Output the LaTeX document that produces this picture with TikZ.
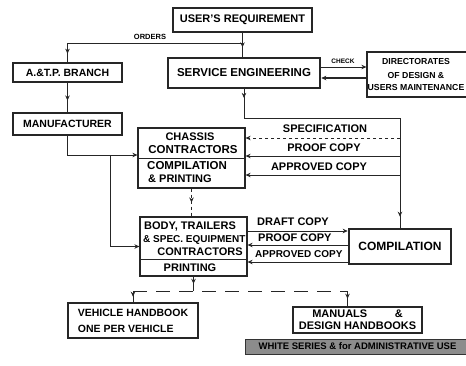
\documentclass[tikz,border=0pt]{standalone}
\usepackage{fontspec}
\setmainfont{Liberation Sans}
\usetikzlibrary{arrows.meta,decorations.markings}
\tikzset{
 box/.style={draw=black!85, line width=1.2pt, inner sep=0pt, align=center, font=\bfseries\fontsize{10.5}{13}\selectfont},
 tbox/.style={box, line width=2.6pt},
 lab/.style={inner sep=0pt, font=\bfseries\fontsize{11}{12}\selectfont},
 smlab/.style={inner sep=0pt, font=\bfseries\fontsize{7.5}{9}\selectfont},
 conn/.style={draw=black!85, line width=1pt},
 arr/.style={conn, -{Stealth[length=5pt,width=4.5pt]}},
 midarr/.style={conn, postaction={decorate}, decoration={markings, mark=at position #1 with {\arrow{Stealth[length=5pt,width=4.5pt]}}}},
 midarr/.default=0.55,
}
\begin{document}
\begin{tikzpicture}[x=1pt,y=-1pt]
\useasboundingbox (0,0) rectangle (466,365);
\clip (0,0) rectangle (466,365);
\fill[white] (0,0) rectangle (466,365);
% helper heights
\foreach \h in {43,67,78,118,138,155,156,175,231,245,259,262,291}{\coordinate (h\h) at (0,\h);}
% boxes
\node[tbox, minimum width=139pt, minimum height=24pt, font=\bfseries\fontsize{11}{13}\selectfont] (user) at (242.5,20) {USER'S REQUIREMENT};
\node[tbox, minimum width=152pt, minimum height=30pt, font=\bfseries\fontsize{11.5}{13}\selectfont] (se) at (244,73) {SERVICE ENGINEERING};
\node[box, minimum width=109pt, minimum height=19pt] (atp) at (67.5,72.5) {A.\&T.P. BRANCH};
\node[box, minimum width=109pt, minimum height=22pt] (manu) at (67.5,124) {MANUFACTURER};
\node[box, minimum width=104pt, minimum height=45pt, font=\bfseries\fontsize{8.7}{13}\selectfont] (dir) at (419,74.5) {};
\node[inner sep=0pt, align=center, font=\bfseries\fontsize{8.7}{13}\selectfont] (dirt) at (416,75) {DIRECTORATES\\OF DESIGN \&\\USERS MAINTENANCE};
\node[box, minimum width=107pt, minimum height=60pt] (chassis) at (191.5,158) {};
\draw[conn] (chassis.west) -- (chassis.east);
\node[lab] (ch1) at (190,137) {CHASSIS};
\node[lab, font=\bfseries\fontsize{11.5}{12}\selectfont] (ch2) at (193,150) {CONTRACTORS};
\node[lab, anchor=west, font=\bfseries\fontsize{11.5}{12}\selectfont] (ch3) at (147,166) {COMPILATION};
\node[lab, anchor=west] (ch4) at (148,179) {\& PRINTING};
\node[box, minimum width=107pt, minimum height=59pt] (body) at (193.5,246.5) {};
\draw[conn] (body.west |- h259) -- (body.east |- h259);
\node[lab, anchor=west] (b1) at (144,227) {BODY, TRAILERS};
\node[lab, anchor=west, font=\bfseries\fontsize{10}{12}\selectfont] (b2) at (143,240) {\& SPEC. EQUIPMENT};
\node[lab] (b3) at (200,252) {CONTRACTORS};
\node[lab] (b4) at (190,268) {PRINTING};
\node[tbox, minimum width=102pt, minimum height=35pt, font=\bfseries\fontsize{12}{14}\selectfont] (comp) at (400,246.5) {COMPILATION};
\node[box, minimum width=130pt, minimum height=35pt, align=left, font=\bfseries\fontsize{10.5}{16}\selectfont] (veh) at (133,320.5) {VEHICLE HANDBOOK\\ONE PER VEHICLE};
\node[box, minimum width=129pt, minimum height=26pt, font=\bfseries\fontsize{11}{12}\selectfont] (man) at (357.5,320) {MANUALS\hspace{2.5em}\&\\DESIGN HANDBOOKS};
\node[draw=black!80, fill=black!45, line width=1pt, minimum width=225pt, minimum height=15pt, inner sep=0pt, font=\bfseries\fontsize{9.5}{11}\selectfont] (ws) at (357.5,346.5) {WHITE SERIES \& for ADMINISTRATIVE USE};
% user -> service engineering
\draw[midarr=0.6] (user.south) -- (user.south |- se.north);
% orders
\coordinate (oj) at (user.south |- h43);
\coordinate (oa) at (atp.north |- h43);
\draw[conn] (oj) -- (oa);
\draw[midarr=0.55] (oa) -- (atp.north);
\node[smlab] (ord) at (150,37) {ORDERS};
\draw[midarr=0.6] (atp.south) -- (manu.north);
% check
\draw[arr] (se.east |- h67) -- (dir.west |- h67);
\draw[arr, line width=2.4pt] (dir.west |- h78) -- (se.east |- h78);
\node[smlab, font=\bfseries\fontsize{6.5}{8}\selectfont] (chk) at (343,61) {CHECK};
% se -> compilation
\coordinate (sj) at (se.south |- h118);
\coordinate (vj) at (comp.north |- h118);
\draw[midarr=0.3] (se.south) -- (sj);
\draw[conn] (sj) -- (vj);
\draw[midarr=0.9] (vj) -- (comp.north);
% to chassis
\draw[arr, dashed] (vj |- h138) -- (chassis.east |- h138);
\draw[arr] (vj |- h156) -- (chassis.east |- h156);
\draw[arr] (vj |- h175) -- (chassis.east |- h175);
\node[lab] (spec) at (325,129) {SPECIFICATION};
\node[lab] (pc1) at (324,148) {PROOF COPY};
\node[lab] (ac1) at (319,167) {APPROVED COPY};
% manufacturer
\coordinate (mj) at (manu.south |- h155);
\coordinate (bj) at (110,155);
\draw[conn] (manu.south) -- (mj) -- (bj);
\draw[arr] (bj) -- (bj -| chassis.west);
\draw[arr] (bj) |- (body.west);
% chassis -> body
\draw[midarr=0.5, dashed] (chassis.south) -- (chassis.south |- body.north);
% body <-> compilation
\draw[arr] (body.east |- h231) -- (comp.west |- h231);
\draw[arr] (comp.west |- h245) -- (body.east |- h245);
\draw[arr] (comp.west |- h262) -- (body.east |- h262);
\node[lab, anchor=west] (dc) at (257,222) {DRAFT COPY};
\node[lab, anchor=west] (pc2) at (258,238) {PROOF COPY};
\node[lab, anchor=west, font=\bfseries\fontsize{10}{12}\selectfont] (ac2) at (255,254) {APPROVED COPY};
% bottom
\coordinate (bb) at (body.south |- h291);
\draw[midarr=0.5] (body.south) -- (bb);
\coordinate (mn) at ([xshift=-10pt]man.north);
\coordinate (vl) at (veh.north |- h291);
\coordinate (ml) at (mn |- h291);
\draw[conn, dash pattern=on 14pt off 9pt] (vl) -- (ml);
\draw[midarr=0.5] (vl) -- (veh.north);
\draw[midarr=0.5] (ml) -- (mn);
\end{tikzpicture}
\end{document}
